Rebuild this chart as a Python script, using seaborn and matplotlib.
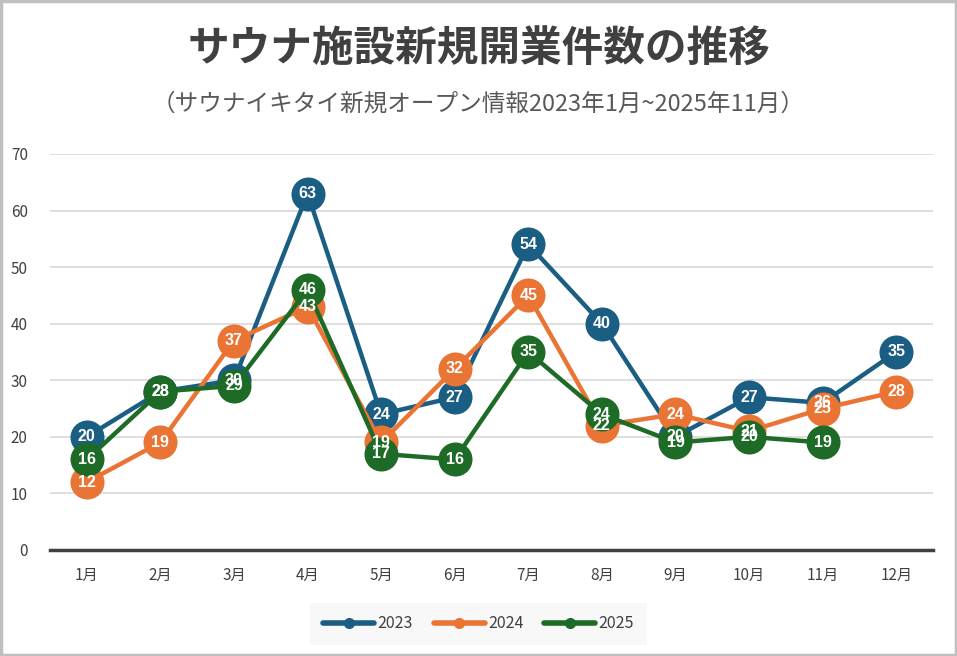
import numpy as np
import pandas as pd
import seaborn as sns
import matplotlib.pyplot as plt
from matplotlib.lines import Line2D
from matplotlib.patches import Rectangle

# 月ラベルと年ごとの件数
months = ['1月', '2月', '3月', '4月', '5月', '6月', '7月', '8月', '9月', '10月', '11月', '12月']
v2023 = [20, 28, 30, 63, 24, 27, 54, 40, 20, 27, 26, 35]
v2024 = [12, 19, 37, 43, 19, 32, 45, 22, 24, 21, 25, 28]
v2025 = [16, 28, 29, 46, 17, 16, 35, 24, 19, 20, 19, np.nan]
years = ['2023', '2024', '2025']
colors = {'2023': '#1B5E84', '2024': '#EA7433', '2025': '#1D6B27'}

df = pd.DataFrame({'month': months, '2023': v2023, '2024': v2024, '2025': v2025})
df['pos'] = range(len(months))

sns.set_style('white')
plt.rcParams['font.family'] = ['Noto Sans CJK JP', 'DejaVu Sans']

fig = plt.figure(figsize=(9.57, 6.56), dpi=100)
ax = fig.add_axes([50 / 957, 0.1616, 883 / 957, 0.6037])

for i, y in enumerate(years):
    sns.lineplot(data=df, x='pos', y=y, ax=ax, color=colors[y], linewidth=3.2,
                 marker='o', markersize=24.5, markeredgewidth=0, zorder=3 + i)

# 値ラベル（マーカーより前面）
for y in years:
    for p, v in zip(df['pos'], df[y]):
        if not np.isnan(v):
            ax.text(p, v, f'{int(v)}', ha='center', va='center', color='white',
                    fontsize=11.5, fontweight='bold', zorder=10,
                    family=['Liberation Sans', 'DejaVu Sans'])

ax.set_xlim(-0.5, 11.5)
ax.set_ylim(0, 70)
ax.set_yticks(range(0, 71, 10))
ax.set_xticks(df['pos'])
ax.set_xticklabels(months)
ax.set_xlabel('')
ax.set_ylabel('')
ax.grid(axis='y', color='#d9d9d9', linewidth=1.2)
ax.set_axisbelow(True)
for s in ['left', 'right', 'top']:
    ax.spines[s].set_visible(False)
ax.spines['bottom'].set_color('#404040')
ax.spines['bottom'].set_linewidth(2.5)
ax.tick_params(axis='both', length=0, labelsize=11, colors='#404040')
ax.tick_params(axis='y', pad=16)
ax.tick_params(axis='x', pad=12)

fig.text(0.5, 1 - 50 / 656, 'サウナ施設新規開業件数の推移', ha='center', va='center',
         fontsize=30, fontweight='bold', color='#404040')
fig.text(0.5, 1 - 104 / 656, '（サウナイキタイ新規オープン情報2023年1月~2025年11月）',
         ha='center', va='center', fontsize=17, color='#595959')

handles = [Line2D([0], [0], color=colors[y], linewidth=4, marker='o', markersize=7)
           for y in years]
leg = fig.legend(handles, years, loc='center', bbox_to_anchor=(0.5, 1 - 624 / 656),
                 ncol=3, frameon=True, fancybox=False, fontsize=11.5,
                 handlelength=3.2, handletextpad=0.2, columnspacing=1.3, borderpad=0.8)
leg.get_frame().set_facecolor('#f7f7f7')
leg.get_frame().set_edgecolor('none')
for t in leg.get_texts():
    t.set_color('#404040')

fig.patches.append(Rectangle((0.0015, 0.002), 0.997, 0.996, transform=fig.transFigure,
                             fill=False, edgecolor='#bfbfbf', linewidth=2.5))

fig.savefig('out.png', dpi=100)
